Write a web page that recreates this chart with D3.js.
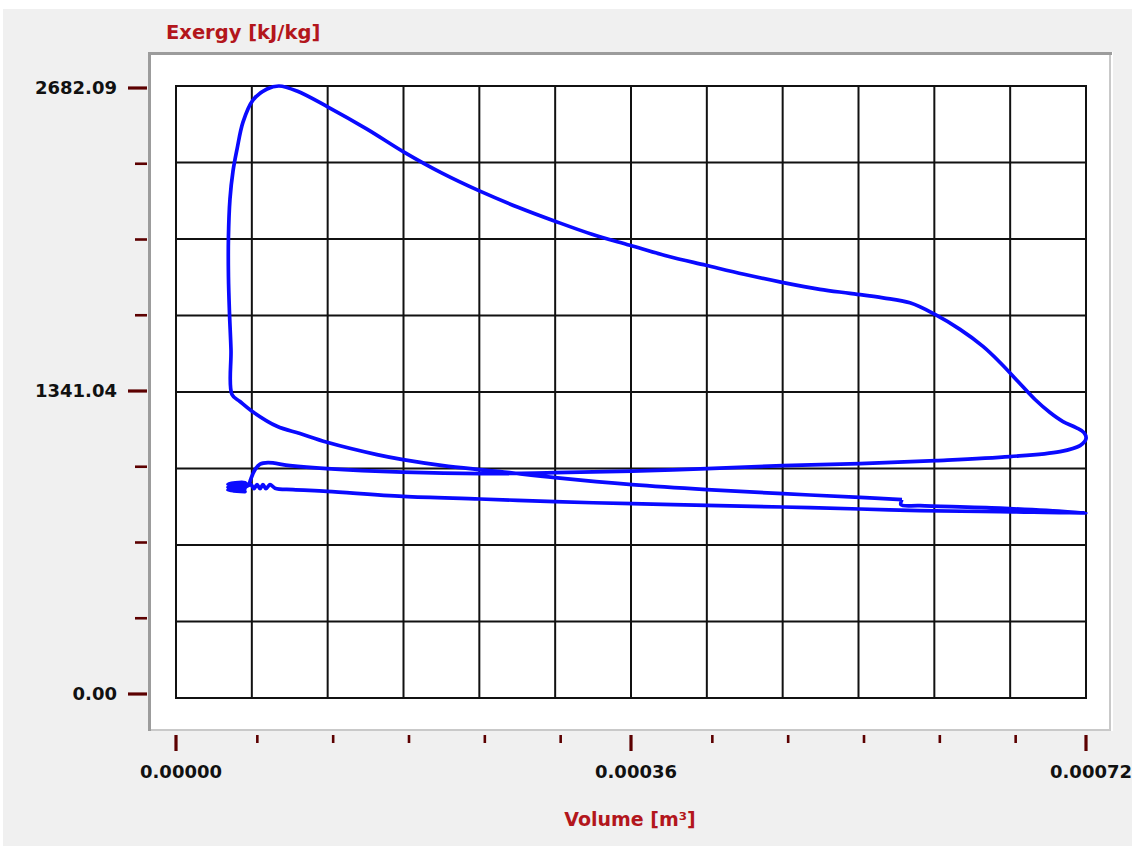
<!DOCTYPE html>
<html>
<head>
<meta http-equiv="Content-type" content="text/html; charset=utf-8">
<title>Exergy vs Volume</title>
<script src="https://cdnjs.cloudflare.com/ajax/libs/d3/7.8.5/d3.min.js"></script>
<style>
  body { margin: 0; background: #ffffff; }
  svg text { font-family: "DejaVu Sans", Verdana, sans-serif; font-weight: bold; }
</style>

<script type="text/javascript">

  // DATA - cycle trace, volume [m3] and exergy [kJ/kg]
  var volume = [
    5.744e-4, 5.412e-4, 4.803e-4, 4.201e-4, 3.608e-4, 2.999e-4, 2.564e-4, 2.405e-4, 2.113e-4, 1.796e-4,
    1.590e-4, 1.195e-4, 9.81e-5, 7.99e-5, 6.01e-5, 5.06e-5, 4.43e-5,
    4.35e-5, 4.23e-5, 4.15e-5, 4.15e-5, 4.27e-5, 4.51e-5, 4.83e-5, 5.30e-5, 6.09e-5, 7.20e-5, 8.15e-5,
    9.57e-5, 1.203e-4, 1.511e-4, 1.804e-4, 2.105e-4, 2.405e-4, 2.706e-4, 2.999e-4, 3.291e-4, 3.592e-4,
    3.893e-4, 4.193e-4, 4.494e-4, 4.795e-4, 5.095e-4, 5.333e-4, 5.594e-4, 5.807e-4, 6.005e-4, 6.203e-4,
    6.385e-4, 6.520e-4, 6.662e-4, 6.797e-4, 6.915e-4, 7.018e-4, 7.121e-4, 7.184e-4, 7.200e-4,
    7.153e-4, 6.994e-4, 6.599e-4, 6.013e-4, 5.412e-4, 4.803e-4, 4.201e-4, 3.608e-4, 2.999e-4, 2.405e-4,
    1.796e-4, 1.195e-4, 9.02e-5, 7.28e-5, 6.65e-5, 6.25e-5, 5.93e-5, 5.70e-5,
    5.46e-5, 4.11e-5, 5.46e-5, 4.11e-5, 5.46e-5, 4.11e-5, 5.46e-5, 4.11e-5, 5.46e-5,
    5.93e-5, 6.17e-5, 6.41e-5, 6.65e-5, 6.88e-5, 7.12e-5, 7.44e-5, 7.83e-5, 9.26e-5, 1.195e-4, 1.796e-4,
    2.405e-4, 2.999e-4, 3.608e-4, 4.201e-4, 4.803e-4, 5.412e-4, 5.887e-4, 6.520e-4, 7.200e-4,
    6.520e-4, 5.887e-4, 5.736e-4, 5.744e-4
  ];
  var exergy = [
    869.2, 879.2, 895.5, 913.1, 935.0, 965.7, 992.1, 1000.8, 1018.4, 1044.7,
    1066.7, 1120.7, 1158.9, 1190.9, 1256.8, 1299.3, 1330.1,
    1527.6, 1690.0, 1848.1, 2019.2, 2186.1, 2309.0, 2405.5, 2524.1, 2620.6, 2668.9, 2682.09,
    2660.1, 2589.9, 2493.3, 2392.4, 2300.2, 2221.2, 2150.9, 2089.5, 2032.4, 1984.1,
    1935.8, 1896.3, 1856.8, 1821.7, 1791.0, 1773.4, 1753.7, 1731.7, 1681.2, 1615.4,
    1540.8, 1470.5, 1387.1, 1308.1, 1251.1, 1211.5, 1185.2, 1163.3, 1136.9,
    1106.2, 1079.9, 1057.9, 1040.4, 1027.2, 1018.4, 1005.2, 994.3, 987.7, 983.3,
    989.9, 1005.2, 1018.4, 1031.6, 1025.0, 1000.8, 961.3, 930.6,
    943.8, 937.2, 930.6, 924.0, 917.4, 910.8, 904.3, 910.8, 924.0,
    935.0, 917.4, 935.0, 917.4, 935.0, 917.4, 935.0, 919.6, 913.1, 905.6, 883.6,
    872.2, 860.4, 851.6, 844.1, 837.1, 828.3, 820.9, 816.5, 812.1,
    831.8, 842.8, 847.2, 869.2
  ];

  var yTickLabels = ["0.00", "1341.04", "2682.09"];
  var xTickLabels = ["0.00000", "0.00036", "0.00072"];
  var yTitle = "Exergy [kJ/kg]";
  var xTitle = "Volume [m\u00b3]";

  var yMax = 2682.09;
  var xMax = 0.00072;
  var xDivs = 12;
  var yDivs = 8;

  var W = 1132, H = 846;
  var tickColor = "#5c0000";
  var titleColor = "#b3161c";

  function init() {
    var svg = d3.select("body").append("svg")
        .attr("width", W).attr("height", H);

    // background + panel
    svg.append("rect").attr("x", 3).attr("y", 9).attr("width", W - 3).attr("height", H - 9)
        .attr("fill", "#f0f0f0");
    svg.append("rect").attr("x", 148).attr("y", 52).attr("width", 965).attr("height", 679)
        .attr("fill", "#ffffff");
    svg.append("path").attr("d", "M1110,52V730H149").attr("fill", "none")
        .attr("stroke", "#c9c9c9").attr("stroke-width", 2);
    svg.append("path").attr("d", "M149.5,731V53.5H1112").attr("fill", "none")
        .attr("stroke", "#9c9c9c").attr("stroke-width", 3);

    var x = d3.scaleLinear().domain([0, xMax]).range([176, 1086]);
    var y = d3.scaleLinear().domain([0, yMax]).range([698, 86]);
    // tick marks outside the panel sit a bit differently from the grid
    var yT = d3.scaleLinear().domain([0, yMax]).range([694, 88]);

    var xGrid = d3.range(xDivs + 1).map(function(i) { return i * xMax / xDivs; });
    var yGrid = d3.range(yDivs + 1).map(function(i) { return i * yMax / yDivs; });

    var grid = svg.append("g").attr("stroke", "#111").attr("stroke-width", 2);
    grid.selectAll(".vx").data(xGrid).enter().append("line")
        .attr("x1", function(d) { return x(d); }).attr("x2", function(d) { return x(d); })
        .attr("y1", y(0) + 1).attr("y2", y(yMax) - 1);
    grid.selectAll(".hy").data(yGrid).enter().append("line")
        .attr("y1", function(d) { return y(d); }).attr("y2", function(d) { return y(d); })
        .attr("x1", x(0) - 1).attr("x2", x(xMax) + 1);

    // the curve
    var pts = volume.map(function(v, i) { return [v, exergy[i]]; });
    var line = d3.line()
        .curve(d3.curveCatmullRom.alpha(0.5))
        .x(function(d) { return x(d[0]); })
        .y(function(d) { return y(d[1]); });
    svg.append("path").datum(pts)
        .attr("d", line)
        .attr("fill", "none")
        .attr("stroke", "#0a0aff")
        .attr("stroke-width", 3.7)
        .attr("stroke-linejoin", "round");

    // y ticks
    svg.selectAll(".yt").data(yGrid).enter().append("line")
        .attr("x1", function(d, i) { return i % 4 == 0 ? 128 : 135; })
        .attr("x2", 147)
        .attr("y1", function(d) { return yT(d); }).attr("y2", function(d) { return yT(d); })
        .attr("stroke", tickColor)
        .attr("stroke-width", function(d, i) { return i % 4 == 0 ? 3.2 : 2.6; });

    var yMajor = [0, yMax / 2, yMax];
    svg.selectAll(".yl").data(yMajor).enter().append("text")
        .attr("x", 117).attr("y", function(d) { return yT(d); })
        .attr("dy", "0.36em")
        .attr("text-anchor", "end")
        .attr("font-size", 18)
        .attr("fill", "#111")
        .text(function(d, i) { return yTickLabels[i]; });

    // x ticks
    svg.selectAll(".xt").data(xGrid).enter().append("line")
        .attr("x1", function(d, i) { return x(d) + (i % 6 == 0 ? 0 : 5.5); })
        .attr("x2", function(d, i) { return x(d) + (i % 6 == 0 ? 0 : 5.5); })
        .attr("y1", 735)
        .attr("y2", function(d, i) { return i % 6 == 0 ? 751 : 743; })
        .attr("stroke", tickColor)
        .attr("stroke-width", function(d, i) { return i % 6 == 0 ? 3.2 : 2.6; });

    var xMajor = [0, xMax / 2, xMax];
    svg.selectAll(".xl").data(xMajor).enter().append("text")
        .attr("x", function(d) { return x(d) + 5; }).attr("y", 778)
        .attr("text-anchor", "middle")
        .attr("font-size", 18)
        .attr("fill", "#111")
        .text(function(d, i) { return xTickLabels[i]; });

    // axis titles
    svg.append("text").attr("x", 166).attr("y", 39)
        .attr("font-size", 19.5).attr("fill", titleColor)
        .text(yTitle);
    svg.append("text").attr("x", 630).attr("y", 826)
        .attr("text-anchor", "middle")
        .attr("font-size", 19).attr("fill", titleColor)
        .text(xTitle);
  }

</script>
</head>
<body onload="init();">
</body>
</html>
